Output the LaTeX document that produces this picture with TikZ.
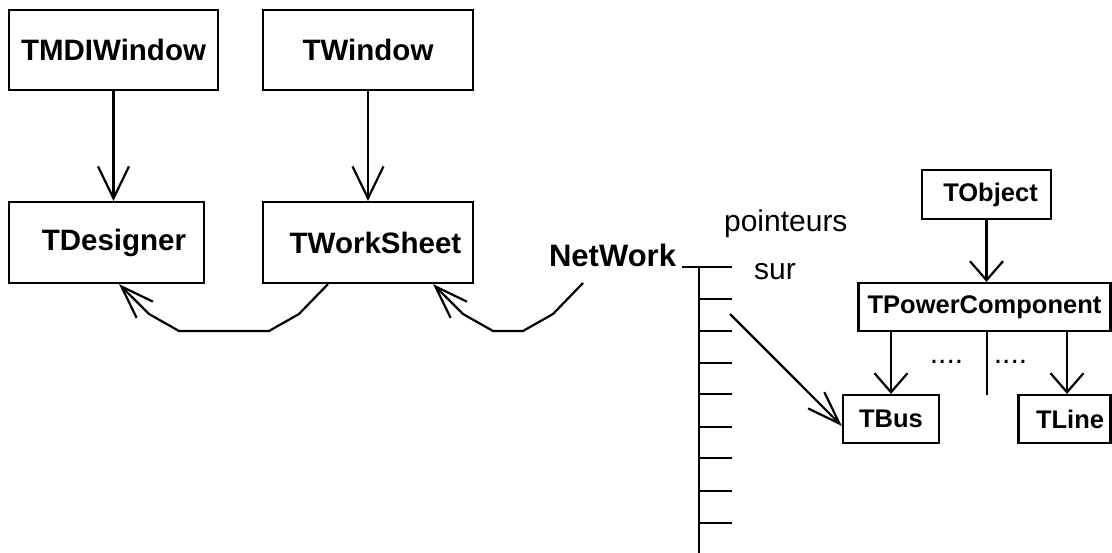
\documentclass[tikz,border=0pt]{standalone}
\usepackage{fontspec}
\setmainfont{Liberation Sans}
\usetikzlibrary{arrows.meta}
\begin{document}
\begin{tikzpicture}[x=1pt,y=-1pt,
  line width=2.2pt,
  classbox/.style={draw, line width=2.2pt, inner sep=0pt,
    font=\bfseries\fontsize{29.5}{30}\selectfont},
  smallbox/.style={classbox, font=\bfseries\fontsize{25.5}{26}\selectfont},
  plain/.style={inner sep=0pt, font=\fontsize{30}{30}\selectfont},
  inherit/.style={-{Straight Barb[length=32pt,width=31pt]}},
  inheritsmall/.style={-{Straight Barb[length=19pt,width=33pt]}},
  pointer/.style={-{Straight Barb[length=33pt,width=23pt]}},
  line join=miter]

\useasboundingbox (0,0) rectangle (1112,553);

% class hierarchy of the windows
\node[classbox, minimum width=209pt, minimum height=80pt] (mdi) at (113.5,50) {TMDIWindow};
\node[classbox, minimum width=210pt, minimum height=80pt] (win) at (368,50) {TWindow};
\node[classbox, minimum width=195pt, minimum height=81pt] (des) at (106.5,242.5) {\hspace*{15pt}TDesigner};
\node[classbox, minimum width=210pt, minimum height=81pt] (ws) at (368,242.5) {\hspace*{15pt}TWorkSheet};

\draw[inherit] (mdi.south) -- (mdi.south |- des.north);
\draw[inherit] (win.south) -- (ws.north);

% the network object and its pointer array
\node[plain, anchor=base west, font=\bfseries\fontsize{31}{31}\selectfont] (nw) at (548,267) {NetWork};
\coordinate (nwout) at (583,283);
\coordinate (arr) at (699,267);
\draw ([xshift=5pt]nw.base east) -- (732,267);
\draw (arr) -- (699,553);
\foreach \y in {299,331,363,394,427,458,491,523}
  \draw (699,\y) -- (732,\y);
\node[plain, anchor=base west] (ptrs) at (723,232) {pointeurs};
\node[plain, anchor=base west] (sur) at (753,280) {sur};
\coordinate (ptr) at (730,314);

% aggregation links
\draw[pointer] ([xshift=-40pt]ws.south) -- (299,314) -- (269,331) -- (179,331)
  -- (149,314) -- ([xshift=12.5pt]des.south);
\draw[pointer] (nwout) -- (553,314) -- (523,331) -- (493,331) -- (463,314)
  -- ([xshift=65pt]ws.south);

% power component hierarchy
\node[smallbox, minimum width=129pt, minimum height=49pt] (obj) at (986.5,194.5) {\hspace*{8pt}TObject};
\node[smallbox, minimum width=252pt, minimum height=48pt] (pc) at (984.5,307) {TPowerComponent};
\node[smallbox, minimum width=96pt, minimum height=48pt] (bus) at (891,419) {TBus};
\node[smallbox, minimum width=92pt, minimum height=48pt] (tline) at (1064.5,419) {\hspace*{11pt}TLine};

\draw[inheritsmall] (obj.south) -- (obj.south |- pc.north);
\draw[inheritsmall] (bus.north |- pc.south) -- (bus.north);
\coordinate (mid) at (987,395);
\draw (mid |- pc.south) -- (mid);
\coordinate (lt) at ([xshift=2.5pt]tline.north);
\draw[inheritsmall] (lt |- pc.south) -- (lt);
\node[plain, anchor=base] (dots1) at (946.5,364) {....};
\node[plain, anchor=base] (dots2) at (1010.5,364) {....};

\draw[pointer] (ptr) -- ([yshift=-7pt]bus.west);
\end{tikzpicture}
\end{document}
